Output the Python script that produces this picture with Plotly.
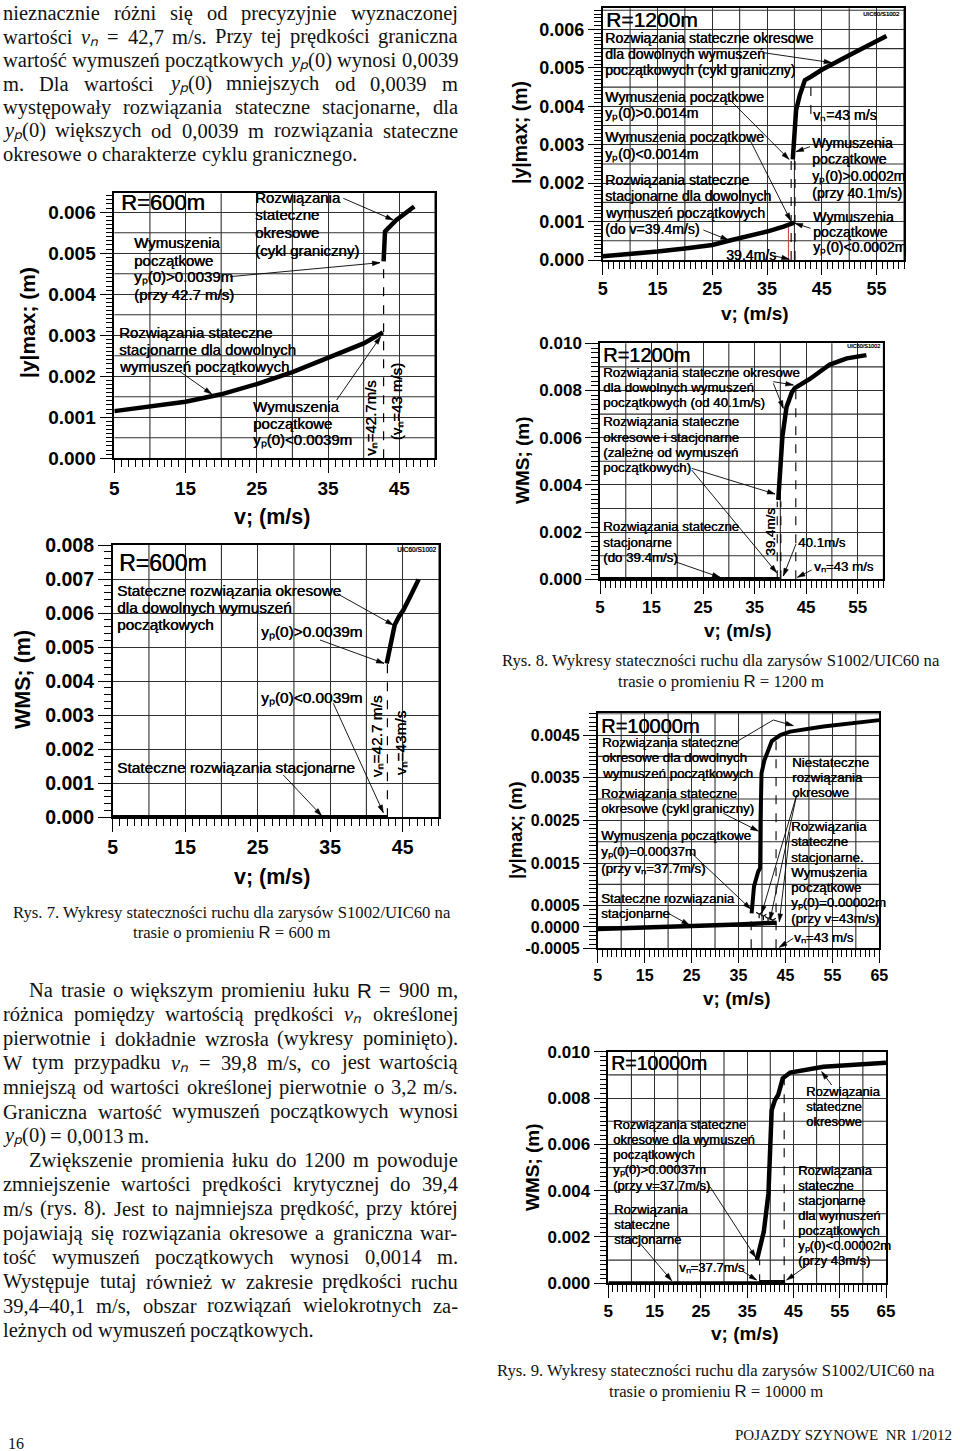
import re
import math
import plotly.graph_objects as go

W, H = 960, 1451
SANS = "Liberation Sans, Arial, sans-serif"
SERIF = "Liberation Serif, Times New Roman, serif"

# ====================== DATA ======================
# Rys. 7  (R = 600 m) : |y|max
r600_ymax_stat_v = [5, 10, 15, 20, 25, 30, 35, 40, 42.7]
r600_ymax_stat_y = [0.00115, 0.00126, 0.00138, 0.00156, 0.00181, 0.00210, 0.00244, 0.00280, 0.00307]
r600_ymax_per_v = [42.8, 42.9, 43.0, 44.6, 47.1]
r600_ymax_per_y = [0.00480, 0.00520, 0.00553, 0.00581, 0.00614]
r600_ymax_crit_v = [42.8, 42.8]
r600_ymax_crit_y = [0.0, 0.0048]
# Rys. 7  (R = 600 m) : WMS
r600_wms_stat_v = [5, 42.9]
r600_wms_stat_y = [0.0, 0.0]
r600_wms_per_v = [42.8, 43.3, 43.9, 44.5, 45.1, 46.2, 47.2]
r600_wms_per_y = [0.00452, 0.00505, 0.00565, 0.00590, 0.00609, 0.00655, 0.00699]
r600_wms_crit_v = [42.9, 42.9]
r600_wms_crit_y = [0.0, 0.0045]

# Rys. 8  (R = 1200 m) : |y|max
r1200_ymax_stat_v = [5, 10, 15, 20, 25, 28, 32, 35, 38, 40]
r1200_ymax_stat_y = [0.00010, 0.00015, 0.00022, 0.00030, 0.00039, 0.00050, 0.00063, 0.00074, 0.00087, 0.00097]
r1200_ymax_per_v = [39.7, 40.0, 40.3, 41.0, 41.9, 43.0, 45.0, 50.0, 56.8]
r1200_ymax_per_y = [0.00262, 0.00330, 0.00390, 0.00430, 0.00468, 0.00477, 0.00495, 0.00533, 0.00583]
r1200_ymax_crit_a_v = [39.4, 39.4]
r1200_ymax_crit_a_y = [0.0, 0.0026]
r1200_ymax_crit_b_v = [40.1, 40.1]
r1200_ymax_crit_b_y = [0.0, 0.0026]
r1200_ymax_crit_c_v = [43.0, 43.0]
r1200_ymax_crit_c_y = [0.0038, 0.00475]
r1200_ymax_red_v = [38.9, 38.9]
r1200_ymax_red_y = [0.0, 0.00092]
# Rys. 8  (R = 1200 m) : WMS
r1200_wms_stat_v = [5, 39.9]
r1200_wms_stat_y = [0.0, 0.0]
r1200_wms_per_v = [39.6, 40.1, 40.4, 41.2, 42.2, 42.8, 45.8, 49.6, 52.9, 56.7]
r1200_wms_per_y = [0.00336, 0.00506, 0.00605, 0.00730, 0.00790, 0.00810, 0.00850, 0.00910, 0.00936, 0.00950]
r1200_wms_crit_a_v = [39.4, 39.4]
r1200_wms_crit_a_y = [0.0, 0.0033]
r1200_wms_crit_b_v = [40.1, 40.1]
r1200_wms_crit_b_y = [0.0, 0.0033]
r1200_wms_crit_c_v = [43.0, 43.0]
r1200_wms_crit_c_y = [0.0, 0.0081]

# Rys. 9  (R = 10000 m) : |y|max
r10000_ymax_stat_v = [5, 15, 25, 35, 43.1]
r10000_ymax_stat_y = [-0.00005, -0.00002, 0.00002, 0.00006, 0.00010]
r10000_ymax_per_v = [37.8, 38.0, 38.3, 39.2, 39.6, 39.7, 39.9, 40.5, 41.0, 42.1, 43.9, 46.0, 53.1, 65.0]
r10000_ymax_per_y = [0.00032, 0.00075, 0.00095, 0.00130, 0.00138, 0.00250, 0.00360, 0.00390, 0.00405,
                     0.00436, 0.00450, 0.00458, 0.00470, 0.00485]
r10000_ymax_unst_v = [39.4, 40.3, 41.3, 42.3]
r10000_ymax_unst_y = [0.00030, 0.00025, 0.00020, 0.00016]
r10000_ymax_crit_a_v = [37.7, 37.7]
r10000_ymax_crit_a_y = [-0.0005, 0.0003]
r10000_ymax_crit_b_v = [43.0, 43.0]
r10000_ymax_crit_b_y = [-0.0005, 0.0045]
# Rys. 9  (R = 10000 m) : WMS
r10000_wms_stat_v = [5, 43.2]
r10000_wms_stat_y = [0.0, 0.0]
r10000_wms_multi_v = [37.7, 43.2]
r10000_wms_multi_y = [0.0, 0.0]
r10000_wms_per_v = [37.1, 37.6, 38.6, 39.6, 40.3, 41.0, 41.7, 42.7, 44.3, 51.5, 65.0]
r10000_wms_per_y = [0.00100, 0.00144, 0.00223, 0.00388, 0.00748, 0.00791, 0.00813, 0.00885, 0.00910, 0.00935, 0.00952]
r10000_wms_crit_a_v = [37.7, 37.7]
r10000_wms_crit_a_y = [0.0, 0.0010]
r10000_wms_crit_b_v = [43.0, 43.0]
r10000_wms_crit_b_y = [0.0, 0.0090]

# tick labels
x_labels_50 = [5, 15, 25, 35, 45]
x_labels_60 = [5, 15, 25, 35, 45, 55]
x_labels_65 = [5, 15, 25, 35, 45, 55, 65]
y_labels_006 = ["0.000", "0.001", "0.002", "0.003", "0.004", "0.005", "0.006"]
y_labels_008 = ["0.000", "0.001", "0.002", "0.003", "0.004", "0.005", "0.006", "0.007", "0.008"]
y_labels_010 = ["0.000", "0.002", "0.004", "0.006", "0.008", "0.010"]
y_labels_0045 = ["-0.0005", "0.0000", "0.0005", "0.0015", "0.0025", "0.0035", "0.0045"]

# ====================== FIGURE ======================
fig = go.Figure()
annotations = []
shapes = []
GRID = "#303030"


def paper(x, y):
    return x / W, 1 - y / H


def axref(n):
    return ("x", "y") if n == 1 else ("x%d" % n, "y%d" % n)


def add_line(n, xs, ys, width=4.5, dash=None, color="black"):
    xr, yr = axref(n)
    fig.add_trace(go.Scatter(x=xs, y=ys, mode="lines", xaxis=xr, yaxis=yr,
                             line=dict(color=color, width=width, dash=dash),
                             hoverinfo="skip", showlegend=False))


def grid_vals(lo, hi, step):
    out = []
    k = 0
    while True:
        v = round(lo + k * step, 6)
        if v > hi + 1e-9:
            break
        out.append(v)
        k += 1
    return out


def set_axes(n, xpx, ypx, xr, yr, xstep, ystep, xlab, ylab_vals, ylab_txt, yminor, fs):
    xa, ya = axref(n)
    common = dict(showgrid=True, gridcolor=GRID, gridwidth=1.1, zeroline=False,
                  showline=True, linecolor="black", linewidth=1.5, mirror=True,
                  ticks="outside", tickcolor="black", tickwidth=1, ticklen=13,
                  tickfont=dict(family=SANS, size=fs, color="black", weight="bold"),
                  tickmode="array", fixedrange=True, automargin=False)
    xkey = "xaxis" if n == 1 else "xaxis%d" % n
    ykey = "yaxis" if n == 1 else "yaxis%d" % n
    fig.layout[xkey] = dict(common, domain=[xpx[0] / W, xpx[1] / W], range=xr, anchor=ya,
                            tickvals=xlab, ticktext=[str(v) for v in xlab], ticklabelstandoff=-1,
                            minor=dict(tickmode="linear", tick0=0, dtick=1, ticks="outside",
                                       ticklen=7, tickcolor="black", tickwidth=1, showgrid=False))
    fig.layout[ykey] = dict(common, domain=[1 - ypx[1] / H, 1 - ypx[0] / H], range=yr, anchor=xa,
                            tickvals=ylab_vals, ticktext=ylab_txt, ticklabelstandoff=0,
                            minor=dict(tickmode="linear", tick0=0, dtick=yminor, ticks="outside",
                                       ticklen=7, tickcolor="black", tickwidth=1, showgrid=False))
    # intermediate grid lines (between labelled ticks)
    for v in grid_vals(xr[0], xr[1], xstep):
        if all(abs(v - t) > 1e-9 for t in xlab):
            shapes.append(dict(type="line", xref=xa, yref=ya + " domain", x0=v, x1=v, y0=0, y1=1,
                               layer="below", line=dict(color=GRID, width=1.1)))
    for v in grid_vals(yr[0], yr[1], ystep):
        if all(abs(v - t) > 1e-9 for t in ylab_vals):
            shapes.append(dict(type="line", xref=xa + " domain", yref=ya, x0=0, x1=1, y0=v, y1=v,
                               layer="below", line=dict(color=GRID, width=1.1)))


def ptext(x, y, s, size, family=SANS, xanchor="left", angle=0, weight="normal", color="black", shadow=None):
    px_, py_ = paper(x, y)
    font = dict(family=family, size=size, color=color, weight=weight)
    if shadow:
        font["shadow"] = shadow
    annotations.append(dict(xref="paper", yref="paper", x=px_, y=py_, text=s, showarrow=False,
                            xanchor=xanchor, yanchor="middle", textangle=angle, borderpad=0, font=font))


def parrow(tail, head, headstyle=1):
    x0, y0 = paper(*tail)
    x1, y1 = paper(*head)
    shapes.append(dict(type="line", xref="paper", yref="paper", x0=x0, y0=y0, x1=x1, y1=y1,
                       line=dict(color="black", width=0.9)))
    if headstyle:
        ang = math.atan2(head[1] - tail[1], head[0] - tail[0])
        ln, a = 8.0, math.radians(17)
        p1 = (head[0] - ln * math.cos(ang - a), head[1] - ln * math.sin(ang - a))
        p2 = (head[0] - ln * math.cos(ang + a), head[1] - ln * math.sin(ang + a))
        pts = [paper(*head), paper(*p1), paper(*p2)]
        path = "M %.5f,%.5f L %.5f,%.5f L %.5f,%.5f Z" % (pts[0][0], pts[0][1], pts[1][0], pts[1][1],
                                                          pts[2][0], pts[2][1])
        shapes.append(dict(type="path", xref="paper", yref="paper", path=path,
                           fillcolor="black", line=dict(color="black", width=0.5)))


# local frames of the six panels (origin of each panel's sketch grid, 1/3 px units)
FRAME = {1: (0, 180), 2: (0, 530), 3: (490, 0), 4: (490, 320), 5: (490, 705), 6: (490, 1030)}
HEAVY = "0.45px 0px 0px #000"


def L(n, zx, zy):
    ox, oy = FRAME[n]
    return ox + zx / 3.0, oy + zy / 3.0


def ctext(n, zx, zy, s, size, xanchor="left", angle=0, weight="normal"):
    x, y = L(n, zx, zy)
    ptext(x, y, s, size, xanchor=xanchor, angle=angle, weight=weight, shadow=HEAVY)


def carrow(n, t, h, headstyle=1):
    parrow(L(n, *t), L(n, *h), headstyle)


# ---------------- axes ----------------
set_axes(1, (114.3, 434.9), (193.3, 458.3), [5, 50], [0, 0.00646], 5, 0.0005, x_labels_50,
         [i / 1000 for i in range(7)], y_labels_006, 0.0001, 19)
set_axes(2, (112.7, 438.9), (545.0, 817.3), [5, 50], [0, 0.008], 5, 0.001, x_labels_50,
         [i / 1000 for i in range(9)], y_labels_008, 0.0002, 19.5)
set_axes(3, (602.7, 904.0), (8.3, 260.0), [5, 60], [0, 0.00655], 5, 0.0005, x_labels_60,
         [i / 1000 for i in range(7)], y_labels_006, 0.0001, 18)
set_axes(4, (600.0, 883.4), (343.3, 579.3), [5, 60], [0, 0.010], 5, 0.001, x_labels_60,
         [i / 500 for i in range(6)], y_labels_010, 0.0002, 17)
set_axes(5, (597.7, 879.3), (713.3, 948.3), [5, 65], [-0.0005, 0.00501], 5, 0.0005, x_labels_65,
         [-0.0005, 0.0, 0.0005, 0.0015, 0.0025, 0.0035, 0.0045], y_labels_0045, 0.0001, 16)
set_axes(6, (608.3, 886.0), (1051.7, 1283.3), [5, 65], [0, 0.010], 5, 0.001, x_labels_65,
         [i / 500 for i in range(6)], y_labels_010, 0.0002, 17)

# ---------------- curves ----------------
add_line(1, r600_ymax_crit_v, r600_ymax_crit_y, 1.2, "dash")
add_line(1, r600_ymax_stat_v, r600_ymax_stat_y, 4.5)
add_line(1, r600_ymax_per_v, r600_ymax_per_y, 4.5)

add_line(2, r600_wms_crit_v, r600_wms_crit_y, 1.2, "dash")
add_line(2, r600_wms_stat_v, r600_wms_stat_y, 4.5)
add_line(2, r600_wms_per_v, r600_wms_per_y, 4.5)

add_line(3, r1200_ymax_crit_a_v, r1200_ymax_crit_a_y, 1.1, "dash")
add_line(3, r1200_ymax_crit_b_v, r1200_ymax_crit_b_y, 1.1, "dash")
add_line(3, r1200_ymax_crit_c_v, r1200_ymax_crit_c_y, 1.1, "dash")
add_line(3, r1200_ymax_red_v, r1200_ymax_red_y, 1.0, None, "#c03a3a")
add_line(3, r1200_ymax_stat_v, r1200_ymax_stat_y, 4.5)
add_line(3, r1200_ymax_per_v, r1200_ymax_per_y, 4.5)

add_line(4, r1200_wms_crit_a_v, r1200_wms_crit_a_y, 1.1, "dash")
add_line(4, r1200_wms_crit_b_v, r1200_wms_crit_b_y, 1.1, "dash")
add_line(4, r1200_wms_crit_c_v, r1200_wms_crit_c_y, 1.1, "dash")
add_line(4, r1200_wms_stat_v, r1200_wms_stat_y, 4.5)
add_line(4, r1200_wms_per_v, r1200_wms_per_y, 4.5)

add_line(5, r10000_ymax_crit_a_v, r10000_ymax_crit_a_y, 1.1, "dash")
add_line(5, r10000_ymax_crit_b_v, r10000_ymax_crit_b_y, 1.1, "dash")
add_line(5, r10000_ymax_stat_v, r10000_ymax_stat_y, 4.5)
add_line(5, r10000_ymax_per_v, r10000_ymax_per_y, 4.0)
fig.add_trace(go.Scatter(x=r10000_ymax_unst_v, y=r10000_ymax_unst_y, mode="markers", xaxis="x5", yaxis="y5",
                         marker=dict(symbol="y-down", size=5, line=dict(color="black", width=1.2)),
                         hoverinfo="skip", showlegend=False))

add_line(6, r10000_wms_crit_a_v, r10000_wms_crit_a_y, 1.1, "dash")
add_line(6, r10000_wms_crit_b_v, r10000_wms_crit_b_y, 1.1, "dash")
add_line(6, r10000_wms_stat_v, r10000_wms_stat_y, 4.0)
add_line(6, r10000_wms_multi_v, r10000_wms_multi_y, 6.5)
add_line(6, r10000_wms_per_v, r10000_wms_per_y, 4.5)

# ---------------- axis titles ----------------
YT = "|y|max; (m)"
WT = "WMS; (m)"
XT = "v; (m/s)"
ptext(27, 323, YT, 21, xanchor="center", angle=-90, weight="bold")
ptext(272, 517, XT, 21.5, xanchor="center", weight="bold")
ptext(23, 680, WT, 21.5, xanchor="center", angle=-90, weight="bold")
ptext(272, 877, XT, 21.5, xanchor="center", weight="bold")
ptext(520, 133, YT, 19.5, xanchor="center", angle=-90, weight="bold")
ptext(755, 313, XT, 19, xanchor="center", weight="bold")
ptext(522, 460, WT, 19, xanchor="center", angle=-90, weight="bold")
ptext(738, 630, XT, 19, xanchor="center", weight="bold")
ptext(515, 830, YT, 18.5, xanchor="center", angle=-90, weight="bold")
ptext(737, 998, XT, 19, xanchor="center", weight="bold")
ptext(532, 1167, WT, 19, xanchor="center", angle=-90, weight="bold")
ptext(745, 1333, XT, 19, xanchor="center", weight="bold")

# ---------------- panel texts ----------------
YP = "y\u209a(0)"
VN = "v\u2099"
# panel 1
s = 15
ctext(1, 360, 68, "R=600m", 22)
for i, t in enumerate(["Rozwiązania", "stateczne", "okresowe", "(cykl graniczny)"]):
    ctext(1, 762, 52 + 53 * i, t, s)
for i, t in enumerate(["Wymuszenia", "początkowe", YP + "&gt;0.0039m", "(przy 42.7 m/s)"]):
    ctext(1, 398, 188 + 52 * i, t, s)
for i, t in enumerate(["Rozwiązania stateczne", "stacjonarne dla dowolnych", "wymuszeń początkowych"]):
    ctext(1, 355, 458 + 51 * i, t, s)
for i, t in enumerate(["Wymuszenia", "początkowe", YP + "&lt;0.0039m"]):
    ctext(1, 755, 680 + 50 * i, t, s)
ctext(1, 1112, 715, VN + "=42.7m/s", s, xanchor="center", angle=-90)
ctext(1, 1190, 665, "(" + VN + "=43 m/s)", s, xanchor="center", angle=-90)
carrow(1, (1030, 55), (1180, 120))
carrow(1, (690, 290), (1140, 248))
carrow(1, (540, 575), (635, 642))
carrow(1, (1010, 660), (1142, 470))

# panel 2
s = 15.4
ctext(2, 355, 100, "R=600m", 23)
ctext(2, 1250, 58, "UIC60/S1002", 6.5, xanchor="center")
for i, t in enumerate(["Stateczne rozwiązania okresowe", "dla dowolnych wymuszeń", "początkowych"]):
    ctext(2, 348, 180 + 51 * i, t, s)
ctext(2, 780, 305, YP + "&gt;0.0039m", s)
ctext(2, 780, 505, YP + "&lt;0.0039m", s)
ctext(2, 348, 712, "Stateczne rozwiązania stacjonarne", s)
ctext(2, 1130, 620, VN + "=42.7 m/s", s, xanchor="center", angle=-90)
ctext(2, 1200, 640, VN + "=43m/s", s, xanchor="center", angle=-90)
carrow(2, (1010, 190), (1180, 285))
carrow(2, (960, 330), (1152, 400))
carrow(2, (1000, 520), (1150, 848))
carrow(2, (850, 735), (965, 857))

# panel 3
s = 14.1
ctext(3, 345, 58, "R=1200m", 21)
ctext(3, 1175, 42, "UIC60/S1002", 6, xanchor="center")
for i, t in enumerate(["Rozwiązania stateczne okresowe", "dla dowolnych wymuszeń", "początkowych (cykl graniczny)"]):
    ctext(3, 342, 113 + 48 * i, t, s)
ctext(3, 342, 292, "Wymuszenia początkowe", s)
ctext(3, 342, 340, YP + "&gt;0.0014m", s)
ctext(3, 342, 412, "Wymuszenia początkowe", s)
ctext(3, 342, 462, YP + "&lt;0.0014m", s)
for i, t in enumerate(["Rozwiązania stateczne", "stacjonarne dla dowolnych", "wymuszeń początkowych", "(do v=39.4m/s)"]):
    ctext(3, 342, 540 + 49 * i, t, s)
ctext(3, 705, 765, "39.4m/s", s)
ctext(3, 965, 345, VN + "=43 m/s", s)
for i, t in enumerate(["Wymuszenia", "początkowe", YP + "&gt;0.0002m", "(przy 40.1m/s)"]):
    ctext(3, 963, 428 + 50 * i, t, s)
for i, t in enumerate(["Wymuszenia", "początkowe", YP + "&lt;0.0002m"]):
    ctext(3, 965, 650 + 46 * i, t, s)
carrow(3, (820, 158), (1025, 188))
carrow(3, (720, 300), (897, 478))
carrow(3, (780, 420), (902, 662))
carrow(3, (640, 690), (715, 720))
carrow(3, (855, 768), (898, 778))
carrow(3, (960, 440), (918, 455))
carrow(3, (962, 685), (915, 670))

# panel 4
s = 13.3
ctext(4, 335, 105, "R=1200m", 20)
ctext(4, 1120, 78, "UIC60/S1002", 5.5, xanchor="center")
for i, t in enumerate(["Rozwiązania stateczne okresowe", "dla dowolnych wymuszeń", "początkowych (od 40.1m/s)"]):
    ctext(4, 337, 158 + 45 * i, t, s)
for i, t in enumerate(["Rozwiązania stateczne", "okresowe i stacjonarne", "(zależne od wymuszeń", "początkowych)"]):
    ctext(4, 335, 305 + 46 * i, t, s)
for i, t in enumerate(["Rozwiązania stateczne", "stacjonarne", "(do 39.4m/s)"]):
    ctext(4, 335, 620 + 46 * i, t, s)
ctext(4, 843, 635, "39.4m/s", s, xanchor="center", angle=-90)
ctext(4, 920, 668, "40.1m/s", s)
ctext(4, 968, 740, VN + "=43 m/s", s)
carrow(4, (850, 185), (910, 195))
carrow(4, (850, 190), (880, 265))
carrow(4, (605, 445), (855, 522))
carrow(4, (605, 450), (860, 758))
carrow(4, (555, 725), (690, 772))
carrow(4, (918, 672), (880, 768))
carrow(4, (965, 750), (922, 772))

# panel 5
s = 13.3
ctext(5, 330, 62, "R=10000m", 20)
for i, t in enumerate(["Rozwiązania stateczne", "okresowe dla dowolnych", "wymuszeń początkowych"]):
    ctext(5, 333, 112 + 46 * i, t, s)
for i, t in enumerate(["Rozwiązania stateczne", "okresowe (cykl graniczny)"]):
    ctext(5, 330, 265 + 45 * i, t, s)
for i, t in enumerate(["Wymuszenia początkowe", YP + "=0.00037m", "(przy " + VN + "=37.7m/s)"]):
    ctext(5, 330, 393 + 48 * i, t, s)
for i, t in enumerate(["Stateczne rozwiązania", "stacjonarne"]):
    ctext(5, 330, 580 + 45 * i, t, s)
for i, t in enumerate(["Niestateczne", "rozwiązania", "okresowe"]):
    ctext(5, 903, 172 + 45 * i, t, s)
for i, t in enumerate(["Rozwiązania", "stateczne", "stacjonarne.", "Wymuszenia", "początkowe",
                       YP + "=0.00002m", "(przy v=43m/s)"]):
    ctext(5, 900, 365 + 45.8 * i, t, s)
ctext(5, 910, 698, VN + "=43 m/s", s)
carrow(5, (740, 110), (850, 45), headstyle=0)
carrow(5, (850, 45), (910, 62))
carrow(5, (700, 325), (805, 378))
carrow(5, (600, 440), (782, 612))
carrow(5, (535, 625), (598, 660))
carrow(5, (920, 270), (815, 625))
carrow(5, (920, 270), (840, 645))
carrow(5, (900, 380), (868, 650))
carrow(5, (910, 700), (868, 727))

# panel 6
s = 13
ctext(6, 360, 100, "R=10000m", 19.5)
for i, t in enumerate(["Rozwiązania", "stateczne", "okresowe"]):
    ctext(6, 945, 185 + 45 * i, t, s)
for i, t in enumerate(["Rozwiązania stateczne", "okresowe dla wymuszeń", "początkowych",
                       YP + "&gt;0.00037m", "(przy v=37.7m/s)"]):
    ctext(6, 365, 283 + 45.5 * i, t, s)
for i, t in enumerate(["Rozwiązania", "stateczne", "stacjonarne"]):
    ctext(6, 368, 538 + 45 * i, t, s)
ctext(6, 565, 712, VN + "=37.7m/s", s)
for i, t in enumerate(["Rozwiązania", "stateczne", "stacjonarne", "dla wymuszeń", "początkowych",
                       YP + "&lt;0.00002m", "(przy 43m/s)"]):
    ctext(6, 920, 420 + 45.3 * i, t, s)
carrow(6, (1025, 165), (995, 125))
carrow(6, (660, 470), (797, 682))
carrow(6, (450, 640), (545, 752))
carrow(6, (760, 725), (800, 750))
carrow(6, (960, 700), (890, 750))

# ---------------- page text ----------------
TW = {' ': 250, '!': 333, '(': 333, ')': 333, ',': 250, '-': 333, '.': 250, '/': 278, ':': 278, ';': 278,
      '=': 564, '–': 500, '<': 564, '>': 564, 'Ŕ': 722, '\u209a': 380, '\u2099': 380}
for d in "0123456789":
    TW[d] = 500
TW.update(dict(zip("ABCDEFGHIJKLMNOPQRSTUVWXYZ",
                   [722, 667, 667, 722, 611, 556, 722, 722, 333, 389, 722, 611, 889, 722, 722, 556, 722, 667,
                    556, 611, 722, 722, 944, 722, 722, 611])))
TW.update(dict(zip("abcdefghijklmnopqrstuvwxyz",
                   [444, 500, 444, 500, 444, 333, 500, 500, 278, 278, 500, 278, 778, 500, 500, 500, 500, 333,
                    389, 278, 500, 500, 722, 500, 500, 444])))
TW.update({'ą': 444, 'ć': 444, 'ę': 444, 'ł': 278, 'ń': 500, 'ó': 500, 'ś': 389, 'ź': 444, 'ż': 444,
           'Ł': 611, 'Ś': 556, 'Ż': 611})
R_SANS = "<span style='font-family:Liberation Sans, Arial'>R</span>"


def width_of(s, size):
    total = 0.0
    for tok in re.split(r"(<[^>]+>|&[a-z]+;)", s.replace("{R}", "Ŕ")):
        if not tok or tok.startswith("<"):
            continue
        chars = {"&lt;": "<", "&gt;": ">"}.get(tok, tok) if tok.startswith("&") else tok
        for ch in chars:
            total += TW.get(ch, 500)
    return total * size / 1000.0


BODY = 20.5


def body_line(text, y, justify, left=2.0, right=457.0, indent=0.0):
    words = text.split(" ")
    x0 = left + indent
    ws = [width_of(w, BODY) for w in words]
    if justify and len(words) > 1:
        gap = (right - x0 - sum(ws)) / (len(words) - 1)
    else:
        gap = TW[' '] * BODY / 1000.0
    x = x0
    for w, wd in zip(words, ws):
        ptext(x, y, w.replace("{R}", R_SANS), BODY, family=SERIF, color="#111")
        x += wd + gap


IYP = "<i>y\u209a</i>(0)"
IVN = "<i>v\u2099</i>"
top_lines = [
    ("nieznacznie różni się od precyzyjnie wyznaczonej", True, 0),
    ("wartości " + IVN + " = 42,7 m/s. Przy tej prędkości graniczna", True, 0),
    ("wartość wymuszeń początkowych " + IYP + " wynosi 0,0039", True, 0),
    ("m. Dla wartości " + IYP + " mniejszych od 0,0039 m", True, 0),
    ("występowały rozwiązania stateczne stacjonarne, dla", True, 0),
    (IYP + " większych od 0,0039 m rozwiązania stateczne", True, 0),
    ("okresowe o charakterze cyklu granicznego.", False, 0),
]
for i, (t, j, ind) in enumerate(top_lines):
    body_line(t, 13 + 23.5 * i, j, indent=ind)

bottom_lines = [
    ("Na trasie o większym promieniu łuku {R} = 900 m,", True, 26),
    ("różnica pomiędzy wartością prędkości " + IVN + " określonej", True, 0),
    ("pierwotnie i dokładnie wzrosła (wykresy pominięto).", True, 0),
    ("W tym przypadku " + IVN + " = 39,8 m/s, co jest wartością", True, 0),
    ("mniejszą od wartości określonej pierwotnie o 3,2 m/s.", True, 0),
    ("Graniczna wartość wymuszeń początkowych wynosi", True, 0),
    (IYP + " = 0,0013 m.", False, 0),
    ("Zwiększenie promienia łuku do 1200 m powoduje", True, 26),
    ("zmniejszenie wartości prędkości krytycznej do 39,4", True, 0),
    ("m/s (rys. 8). Jest to najmniejsza prędkość, przy której", True, 0),
    ("pojawiają się rozwiązania okresowe a graniczna war-", True, 0),
    ("tość wymuszeń początkowych wynosi 0,0014 m.", True, 0),
    ("Występuje tutaj również w zakresie prędkości ruchu", True, 0),
    ("39,4–40,1 m/s, obszar rozwiązań wielokrotnych za-", True, 0),
    ("leżnych od wymuszeń początkowych.", False, 0),
]
for i, (t, j, ind) in enumerate(bottom_lines):
    body_line(t, 990 + 24.3 * i, j, indent=ind)

CAP = 16.7
cap1 = "Rys. %d. Wykresy stateczności ruchu dla zarysów S1002/UIC60 na"
cap2 = "trasie o promieniu " + R_SANS + " = %d m"
ptext(232, 912, cap1 % 7, CAP, family=SERIF, xanchor="center", color="#111")
ptext(232, 932, cap2 % 600, CAP, family=SERIF, xanchor="center", color="#111")
ptext(721, 661, cap1 % 8, CAP, family=SERIF, xanchor="center", color="#111")
ptext(721, 681, cap2 % 1200, CAP, family=SERIF, xanchor="center", color="#111")
ptext(716, 1370, cap1 % 9, CAP, family=SERIF, xanchor="center", color="#111")
ptext(716, 1391, cap2 % 10000, CAP, family=SERIF, xanchor="center", color="#111")
ptext(953, 1435, "POJAZDY SZYNOWE&nbsp; NR 1/2012", 15, family=SERIF, xanchor="right", color="#111")
ptext(7, 1443, "16", 16, family=SERIF, color="#111")

fig.update_layout(width=W, height=H, margin=dict(l=0, r=0, t=0, b=0, pad=0, autoexpand=False),
                  paper_bgcolor="white", plot_bgcolor="white", showlegend=False,
                  annotations=annotations, shapes=shapes)

fig.write_html("out.html", config={"displayModeBar": False},
               post_script="document.body.style.margin='0';")
